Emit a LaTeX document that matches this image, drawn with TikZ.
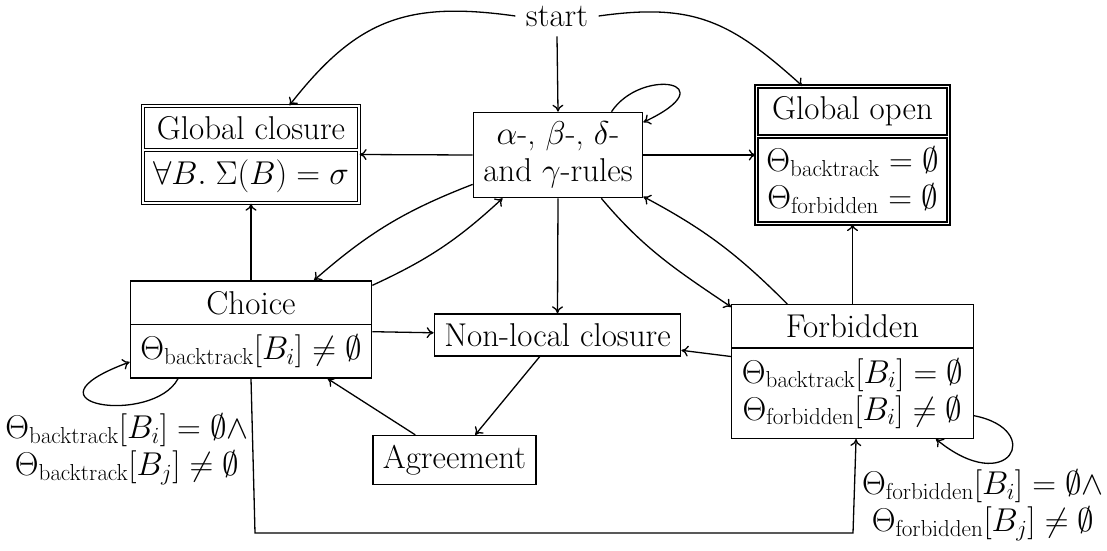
\RequirePackage{fix-cm}
\documentclass[tikz,border=0pt]{standalone}
\usetikzlibrary{shapes.multipart,arrows.meta}
\begin{document}
\begin{tikzpicture}[x=1pt,y=1pt,line width=1.3pt,>={To[length=7pt,width=11pt]},
  every node/.style={font=\fontsize{33}{37}\selectfont,inner xsep=10pt,inner ysep=9.5pt},
  box/.style={draw,rectangle,align=center},
  splitbox/.style={draw,rectangle split,rectangle split parts=2,align=center},
  dbox/.style={splitbox,double,double distance=1.7pt},
  lbl/.style={align=center,inner sep=0pt}]
\useasboundingbox (0,0) rectangle (1107,-550);
% nodes
\node (start) at (557,-16) {start};
\node[dbox] (gclos) at (251,-154.5) {Global closure\nodepart{two}$\forall B.\;\Sigma(B)=\sigma$};
\node[dbox] (gopen) at (852.5,-155) {Global open\nodepart{two}$\Theta_{\mathrm{backtrack}}=\emptyset$\\$\Theta_{\mathrm{forbidden}}=\emptyset$};
\node[box] (rules) at (558,-155) {$\alpha$-, $\beta$-, $\delta$-\\and $\gamma$-rules};
\node[splitbox] (choice) at (251,-329.5) {Choice\nodepart{two}$\Theta_{\mathrm{backtrack}}[B_i]\neq\emptyset$};
\node[box] (nonloc) at (557.5,-335) {Non-local closure};
\node[splitbox] (forb) at (852.5,-371.5) {Forbidden\nodepart{two}$\Theta_{\mathrm{backtrack}}[B_i]=\emptyset$\\$\Theta_{\mathrm{forbidden}}[B_i]\neq\emptyset$};
\node[box] (agree) at (454.5,-460) {Agreement};
\node[lbl] (lblc) at (127,-449) {$\Theta_{\mathrm{backtrack}}[B_i]=\emptyset\land$\\$\Theta_{\mathrm{backtrack}}[B_j]\neq\emptyset$};
\node[lbl] (lblf) at (983,-505) {$\Theta_{\mathrm{forbidden}}[B_i]=\emptyset\land$\\$\Theta_{\mathrm{forbidden}}[B_j]\neq\emptyset$};
\coordinate (c1) at (255,-533);
\coordinate (c2) at (853,-533);
% connectors
\draw[->] (start.south) -- (rules.north);
\draw[->] (start.west) to[out=172,in=52,looseness=1.15] (gclos.52);
\draw[->] (start.east) to[out=8,in=138,looseness=1.15] (gopen.126);
\draw[->] (rules.39) .. controls +(30,45) and +(85,40) .. (rules.21);
\draw[->] (rules.west) -- (gclos.east);
\draw[->] (rules.east) -- (gopen.west);
\draw[->] (rules.south) -- (nonloc.north);
\draw[->] (rules.199) to[bend right=10] (choice.38);
\draw[->] (choice.20) to[bend right=9] (rules.218);
\draw[->] (choice.north) -- (gclos.south);
\draw[->] (choice) -- (nonloc);
\draw[->] (choice.214) .. controls +(-25,-47) and +(-117,-43) .. (choice.195);
\draw[->] (nonloc) -- (agree);
\draw[->] (agree) -- (choice);
\draw[->] (forb.north) -- (gopen.south);
\draw[->] (forb.134) to[out=135,in=-28] (rules.-26);
\draw[->] (rules.-45) to[out=-50,in=146] (forb.152);
\draw[->] (forb) -- (nonloc);
\draw[->] (forb.-20) .. controls +(72,-14) and +(73,-60) .. (forb.-39);
\draw[->] (choice.south) -- (c1) -- (c2) -- (forb.-87);
\end{tikzpicture}
\end{document}
